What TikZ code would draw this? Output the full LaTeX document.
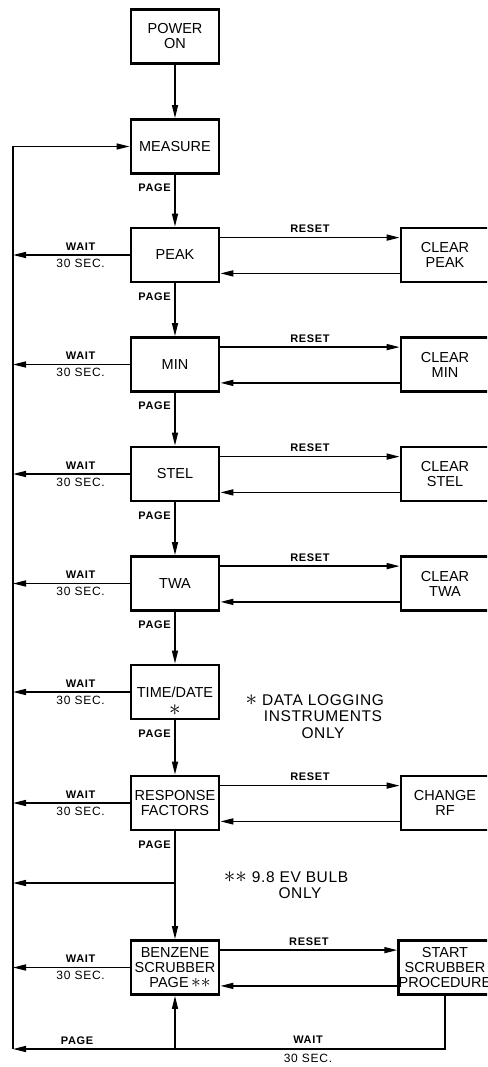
\documentclass[tikz,border=0pt]{standalone}
\usepackage{fontspec}
\setmainfont{Liberation Sans}
\newfontfamily\lblfont{Liberation Sans}[LetterSpace=6]
\newfontfamily\notefont{Liberation Sans}[LetterSpace=4]
\usetikzlibrary{arrows.meta}
\newcommand{\bigast}{\scalebox{1.6}{$\ast$}}
\newcommand{\midast}{\scalebox{1.35}{$\ast$}}
\begin{document}
\begin{tikzpicture}[x=1pt,y=-1pt,
  box/.style={draw,line width=2.8pt,minimum width=88pt,minimum height=54pt,inner sep=0pt,align=center,font=\fontsize{14.5}{15}\selectfont},
  conn/.style={line width=1.5pt},
  arr/.style={conn,-{Triangle[length=13pt,width=6pt]}},
  lbl/.style={font=\lblfont\bfseries\fontsize{11}{11}\selectfont,inner sep=0pt},
  sec/.style={font=\lblfont\fontsize{12}{12}\selectfont,inner sep=0pt},
  note/.style={align=center,font=\notefont\fontsize{15.5}{16.5}\selectfont,inner sep=0pt}]
\useasboundingbox (0,0) rectangle (487,1067);
\clip (0,0) rectangle (487,1067);
% left return line
\coordinate (lft) at (13,146.5);
\coordinate (bot) at (13,1049);
\draw[conn] (lft) -- (bot);
% top boxes
\node[box] (pwr) at (175,36.5) {POWER\\ON};
\node[box] (meas) at (175,146.5) {MEASURE};
\draw[arr] (pwr.south) -- (meas.north);
\draw[arr] (lft) -- (meas.west);
% rows with reset boxes
\foreach \n/\t/\c/\y in {peak/PEAK/{CLEAR\\PEAK}/255, min/MIN/{CLEAR\\MIN}/364.5, stel/STEL/{CLEAR\\STEL}/474, twa/TWA/{CLEAR\\TWA}/583.5}{
  \node[box] (\n) at (175,\y) {\t};
  \node[box] (c\n) at (445,\y) {\c};
  \draw[arr] ([yshift=-11pt]\n.north east) -- ([yshift=-11pt]c\n.north west) node[midway,above=4pt,lbl] (r\n) {RESET};
  \draw[arr] ([yshift=10pt]c\n.south west) -- ([yshift=10pt]\n.south east);
  \draw[arr] (\n.west) -- (\n.west -| lft)
     node[pos=0.42,above=4pt,lbl] (w\n) {WAIT}
     node[pos=0.42,below=3pt,sec] (s\n) {30 SEC.};
}
\node[box,label={[inner sep=0pt,yshift=-18pt,font=\fontsize{15}{15}\selectfont]center:\bigast}] (td) at (175,692) {TIME/DATE};
\node[box] (resp) at (175,803) {RESPONSE\\FACTORS};
\node[box] (crf) at (445,803) {CHANGE\\RF};
\node[box] (benz) at (175,967.5) {BENZENE\\SCRUBBER\\\hspace*{10pt}PAGE\,\midast\midast};
\node[box] (cbenz) at (445,967.5) {START\\SCRUBBER\\PROCEDURE};
% vertical page arrows
\draw[arr] (meas.south) -- (peak.north);
\draw[arr] (peak.south) -- (min.north);
\draw[arr] (min.south) -- (stel.north);
\draw[arr] (stel.south) -- (twa.north);
\draw[arr] (twa.south) -- (td.north);
\draw[arr] (td.south) -- (resp.north);
\draw[arr] (resp.south) -- (benz.north);
\foreach \n in {meas,peak,min,stel,twa,td,resp}{
  \node[lbl,anchor=east] (p\n) at ([xshift=-4pt,yshift=-13pt]\n.south) {PAGE};
}
% wait arrows for remaining rows
\foreach \n in {td,resp,benz}{
  \draw[arr] (\n.west) -- (\n.west -| lft)
     node[pos=0.42,above=4pt,lbl] (w\n) {WAIT}
     node[pos=0.42,below=3pt,sec] (s\n) {30 SEC.};
}
% change RF / scrubber resets
\draw[arr] ([yshift=-11pt]resp.north east) -- ([yshift=-11pt]crf.north west) node[midway,above=4pt,lbl] (rresp) {RESET};
\draw[arr] ([yshift=10pt]crf.south west) -- ([yshift=10pt]resp.south east);
\draw[arr] ([yshift=-11pt]benz.north east) -- ([yshift=-11pt]cbenz.north west) node[midway,above=4pt,lbl] (rbenz) {RESET};
\draw[arr] ([yshift=10pt]cbenz.south west) -- ([yshift=10pt]benz.south east);
% junction between response factors and benzene
\coordinate (j) at (175,883);
\draw[arr] (j) -- (j -| lft);
% bottom loop
\coordinate (jb) at (175,1049);
\draw[arr] (cbenz.south) |- (bot);
\draw[arr] (jb) -- (benz.south);
\node[lbl] (pgb) at (77,1041) {PAGE};
\node[lbl] (wb) at (308,1040) {WAIT};
\node[sec] (sb) at (308,1058) {30 SEC.};
% notes
\node[note] (n1) at (323,716.5) {\llap{\bigast\ }DATA LOGGING\\INSTRUMENTS\\ONLY};
\node[note] (n2) at (300,885) {\llap{\bigast\bigast\ }9.8 EV BULB\\ONLY};
\end{tikzpicture}
\end{document}
